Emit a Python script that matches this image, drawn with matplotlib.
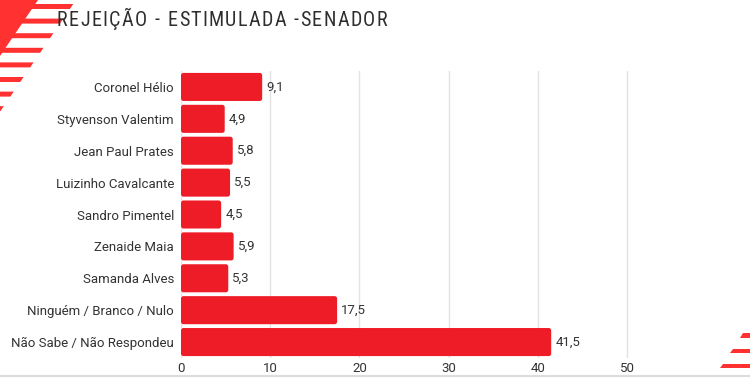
import matplotlib

matplotlib.use("Agg")
import matplotlib.pyplot as plt  # noqa: E402
from matplotlib import font_manager  # noqa: E402
from matplotlib.patches import Polygon, FancyBboxPatch  # noqa: E402
from matplotlib.lines import Line2D  # noqa: E402

# data
candidates = ["Coronel Hélio", "Styvenson Valentim", "Jean Paul Prates",
              "Luizinho Cavalcante", "Sandro Pimentel", "Zenaide Maia",
              "Samanda Alves", "Ninguém / Branco / Nulo", "Não Sabe / Não Respondeu"]
values = [9.1, 4.9, 5.8, 5.5, 4.5, 5.9, 5.3, 17.5, 41.5]
value_labels = ["9,1", "4,9", "5,8", "5,5", "4,5", "5,9", "5,3", "17,5", "41,5"]
x_ticks = [0, 10, 20, 30, 40, 50]
title = "REJEIÇÃO - ESTIMULADA -SENADOR"

W, H = 750, 378
BAR = "#ee1c27"
DECO = "#ff3131"
TXT = "#333333"

fig = plt.figure(figsize=(W / 100, H / 100), dpi=100)
fig.patch.set_facecolor("white")


def px(x, y):
    # pixel coords (top-left origin) -> figure fraction
    return (x / W, 1 - y / H)


# decoration top-left: slanted block with stripes
fig.patches.append(Polygon([px(0, 0), px(38, 0), px(0, 56)], closed=True,
                           transform=fig.transFigure, color=DECO, lw=0))
for k in range(8):
    y0 = 4 + 14.6 * k
    y1 = y0 + 5
    xr0 = 76 - 0.68 * y0
    xr1 = 76 - 0.68 * y1
    fig.patches.append(Polygon([px(0, y0), px(xr0, y0), px(xr1, y1), px(0, y1)],
                               closed=True, transform=fig.transFigure,
                               color=DECO, lw=0))

# decoration bottom-right
for y0 in (333, 348.5, 363.5):
    y1 = y0 + 4.5
    xl0 = 743 - (y0 - 333) * 0.67
    xl1 = xl0 - 4.5 * 0.67
    fig.patches.append(Polygon([px(xl0, y0), px(W, y0), px(W, y1), px(xl1, y1)],
                               closed=True, transform=fig.transFigure,
                               color=DECO, lw=0))

# thin grey line at the bottom edge
fig.lines.append(Line2D([0, 1], [1 - 376 / H] * 2, transform=fig.transFigure,
                        color="#dddddd", lw=1.5))

# title: a narrow font if one is installed, letter-spaced to the reference width
names = {f.name for f in font_manager.fontManager.ttflist}
title_font, stretch = "Roboto", "normal"
for name in ("Roboto Condensed", "Liberation Sans Narrow", "Open Sans Condensed"):
    if name in names:
        title_font, stretch = name, "normal"
        break
else:
    if any(f.name == "DejaVu Sans" and f.stretch == "condensed"
           for f in font_manager.fontManager.ttflist):
        title_font, stretch = "DejaVu Sans", "condensed"

renderer = fig.canvas.get_renderer()
chars = []
for ch in title:
    t = fig.text(0, 1 - 20 / H, ch, fontsize=14.5, family=title_font,
                 fontstretch=stretch, color="#2e2e2e", va="center", ha="left")
    w = 5.0 if ch == " " else t.get_window_extent(renderer).width
    chars.append((t, w))
x_start, x_end = 57, 387
track = max(1.0, (x_end - x_start - sum(w for _, w in chars)) / (len(chars) - 1))
x = x_start
for t, w in chars:
    t.set_x(x / W)
    x += w + track

# chart
left, right = 181, 181 + 56 * 8.92
top, bottom = 71, 358
ax = fig.add_axes([left / W, 1 - bottom / H, (right - left) / W, (bottom - top) / H])
ypos = list(range(len(candidates)))
bars = ax.barh(ypos, values, height=0.88, color=BAR, zorder=3)
# swap plain bars for slightly rounded ones
x_per_px = 56 / (right - left)
y_per_px = 9 / (bottom - top)
for b in bars:
    rb = FancyBboxPatch((b.get_x(), b.get_y()), b.get_width(), b.get_height(),
                        boxstyle="round,pad=0,rounding_size=%f" % (2.5 * x_per_px),
                        mutation_aspect=y_per_px / x_per_px,
                        facecolor=BAR, edgecolor="none", zorder=3)
    b.set_visible(False)
    ax.add_patch(rb)
for y, v, lab in zip(ypos, values, value_labels):
    ax.annotate(lab, (v, y), xytext=(3, 0), textcoords="offset points",
                va="center", ha="left", fontsize=9.5, color=TXT,
                family="Roboto")
ax.set_xlim(0, 56)
ax.set_ylim(len(candidates) - 0.5, -0.5)
ax.set_yticks(ypos)
ax.set_yticklabels(candidates, fontsize=9.5, color=TXT, family="Roboto")
ax.set_xticks(x_ticks)
ax.set_xticklabels([str(v) for v in x_ticks], fontsize=9.5, color=TXT,
                   family="Roboto")
ax.tick_params(axis="x", length=0, pad=3)
ax.tick_params(axis="y", length=0, pad=5)
ax.grid(axis="x", color="#e3e3e3", lw=1, zorder=0)
for s in ax.spines.values():
    s.set_visible(False)

fig.savefig("out.png", dpi=100)
